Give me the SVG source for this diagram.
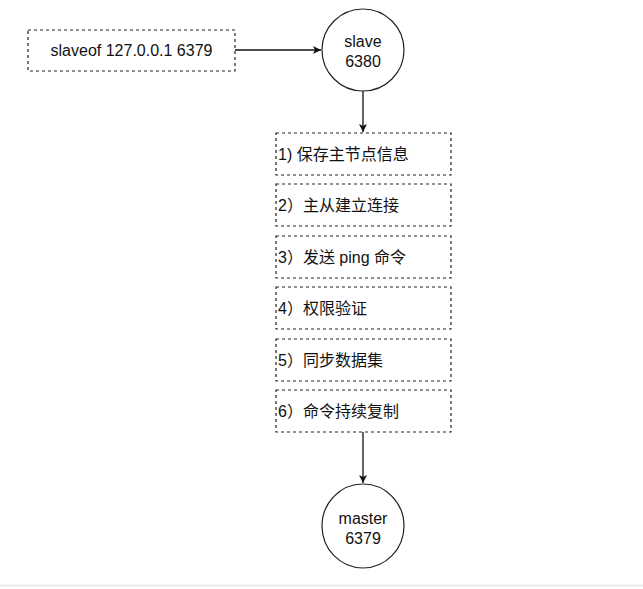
<svg xmlns="http://www.w3.org/2000/svg" width="643" height="589" viewBox="0 0 643 589">
<style>
.b{fill:#fff;stroke:#222;stroke-width:1.2;stroke-dasharray:3 3}
.c{fill:#fff;stroke:#222;stroke-width:1.2}
text{font-family:"Comic Sans MS","Liberation Sans","Noto Sans CJK SC",sans-serif;font-size:16px;fill:#111}
.e{stroke:#111;stroke-width:1.3;fill:none}
</style>
<defs><marker id="a" markerWidth="10" markerHeight="10" refX="9" refY="5" orient="auto" markerUnits="userSpaceOnUse"><path d="M1,1 L9,5 L1,9 L3,5 Z" fill="#111"/></marker></defs>
<rect width="643" height="589" fill="#fff"/>
<line x1="0" y1="585.5" x2="643" y2="585.5" stroke="#e6e6e6" stroke-width="1.5"/>
<g id="connectors">
<line class="e" x1="235" y1="50" x2="321" y2="50" marker-end="url(#a)"/>
<line class="e" x1="363" y1="91" x2="363" y2="132" marker-end="url(#a)"/>
<line class="e" x1="363" y1="432" x2="363" y2="483" marker-end="url(#a)"/>
</g>
<g id="cmd"><rect class="b" x="28" y="30" width="207" height="41"/><text x="131.5" y="56" text-anchor="middle">slaveof 127.0.0.1 6379</text></g>
<g id="slave"><ellipse class="c" cx="363" cy="50" rx="41" ry="41"/><text x="363" y="47" text-anchor="middle">slave</text><text x="363" y="67" text-anchor="middle">6380</text></g>
<g id="s1"><rect class="b" x="276" y="133" width="175" height="42"/><text x="278" y="160">1) 保存主节点信息</text></g>
<g id="s2"><rect class="b" x="276" y="184" width="175" height="42"/><text x="278" y="211">2）主从建立连接</text></g>
<g id="s3"><rect class="b" x="276" y="236" width="175" height="42"/><text x="278" y="263">3）发送 ping 命令</text></g>
<g id="s4"><rect class="b" x="276" y="287" width="175" height="42"/><text x="278" y="314">4）权限验证</text></g>
<g id="s5"><rect class="b" x="276" y="339" width="175" height="42"/><text x="278" y="366">5）同步数据集</text></g>
<g id="s6"><rect class="b" x="276" y="390" width="175" height="42"/><text x="278" y="417">6）命令持续复制</text></g>
<g id="master"><ellipse class="c" cx="363" cy="526" rx="41" ry="42"/><text x="363" y="524" text-anchor="middle">master</text><text x="363" y="544" text-anchor="middle">6379</text></g>
</svg>
